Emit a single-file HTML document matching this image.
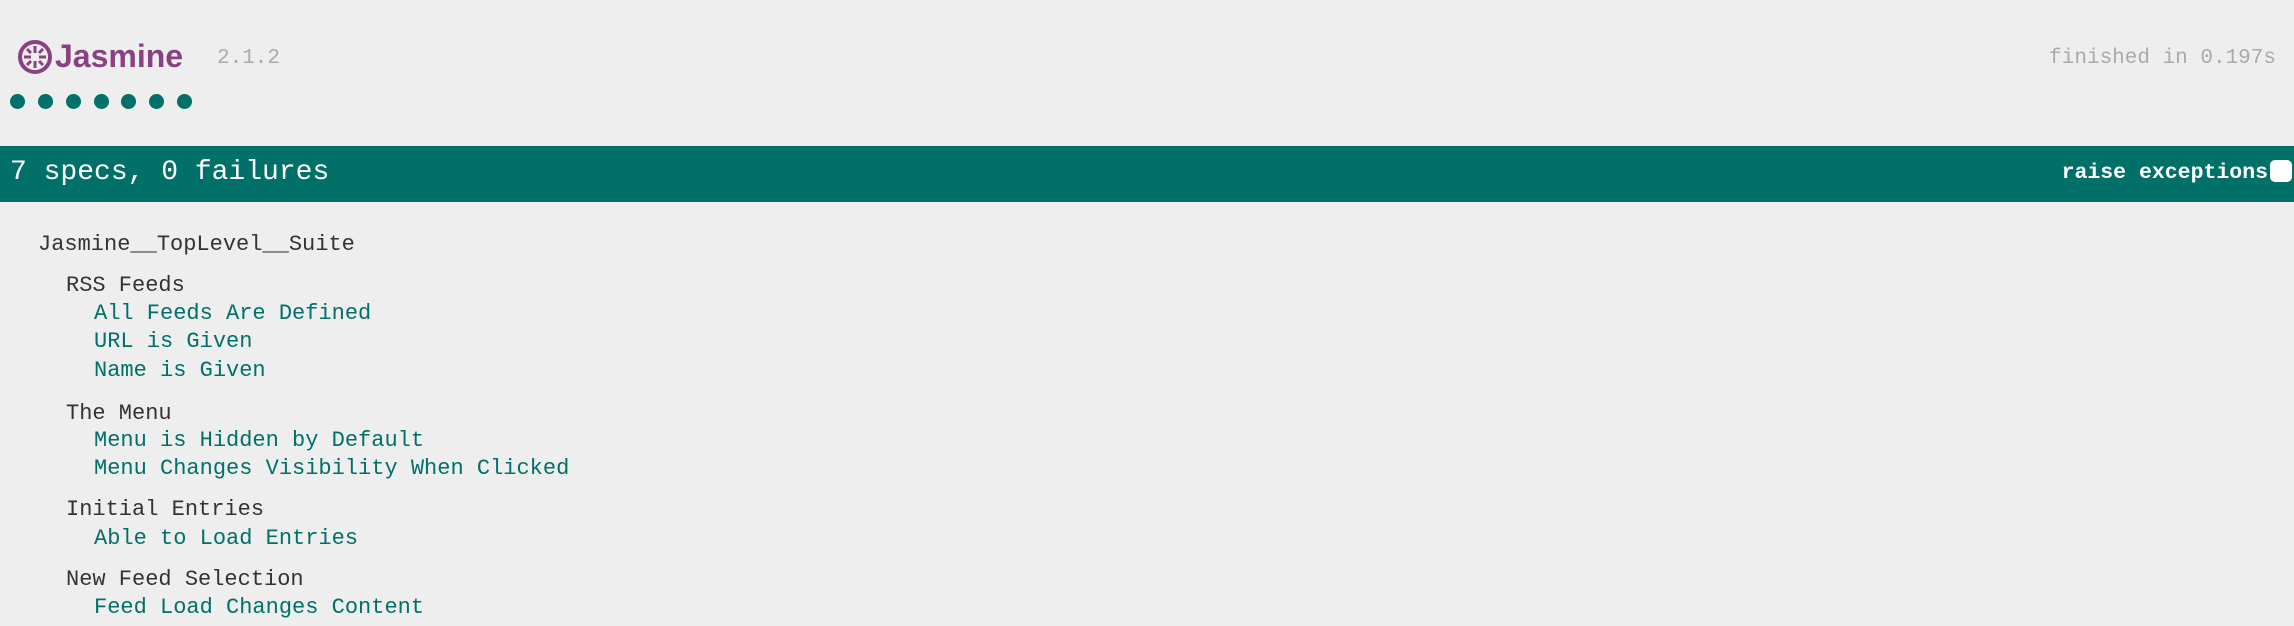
<!DOCTYPE html>
<html><head><meta charset="utf-8">
<style>
body{margin:0;width:2294px;height:626px;background:#eee;overflow:hidden;position:relative;font-family:"Liberation Mono",monospace}
.a{position:absolute;white-space:nowrap;line-height:1}
.dot{position:absolute;top:94px;width:15px;height:15px;border-radius:50%;background:#007069}
.s{color:#333;font-size:22px}
.p{color:#007069;font-size:22px}
</style></head><body>
<div class="a" style="left:17px;top:39px">
<svg width="36" height="36" viewBox="0 0 36 36"><circle cx="18" cy="18" r="15" fill="none" stroke="#8a4182" stroke-width="4"/><g stroke="#8a4182" stroke-width="3"><line x1="18" y1="7" x2="18" y2="14"/><line x1="18" y1="22" x2="18" y2="29"/><line x1="7" y1="18" x2="14" y2="18"/><line x1="22" y1="18" x2="29" y2="18"/><line x1="10" y1="10" x2="14" y2="14"/><line x1="22" y1="22" x2="26" y2="26"/><line x1="26" y1="10" x2="22" y2="14"/><line x1="14" y1="22" x2="10" y2="26"/></g></svg></div>
<div class="a" style="left:55px;top:40px;font-family:'Liberation Sans',sans-serif;font-weight:bold;font-size:32px;color:#8a4182;letter-spacing:0px">Jasmine</div>
<div class="a" style="left:217px;top:48px;font-size:21px;color:#aaa">2.1.2</div>
<div class="a" style="right:18px;top:48px;font-size:21px;color:#aaa">finished in 0.197s</div>
<div class="dot" style="left:10px"></div>
<div class="dot" style="left:38px"></div>
<div class="dot" style="left:66px"></div>
<div class="dot" style="left:94px"></div>
<div class="dot" style="left:121px"></div>
<div class="dot" style="left:149px"></div>
<div class="dot" style="left:177px"></div>
<div style="position:absolute;left:0;top:146px;width:2294px;height:56px;background:#007069"></div>
<div class="a" style="left:10px;top:159px;font-size:28px;color:#fff">7 specs, 0 failures</div>
<div class="a" style="right:26px;top:163px;font-size:21.5px;color:#fff;font-weight:bold">raise exceptions</div>
<div style="position:absolute;left:2270px;top:160px;width:22px;height:22px;border-radius:5px;background:#fff"></div>
<div class="a s" style="left:38px;top:234px">Jasmine__TopLevel__Suite</div>
<div class="a s" style="left:66px;top:275px">RSS Feeds</div>
<div class="a p" style="left:94px;top:303px">All Feeds Are Defined</div>
<div class="a p" style="left:94px;top:331px">URL is Given</div>
<div class="a p" style="left:94px;top:360px">Name is Given</div>
<div class="a s" style="left:66px;top:403px">The Menu</div>
<div class="a p" style="left:94px;top:430px">Menu is Hidden by Default</div>
<div class="a p" style="left:94px;top:458px">Menu Changes Visibility When Clicked</div>
<div class="a s" style="left:66px;top:499px">Initial Entries</div>
<div class="a p" style="left:94px;top:528px">Able to Load Entries</div>
<div class="a s" style="left:66px;top:569px">New Feed Selection</div>
<div class="a p" style="left:94px;top:597px">Feed Load Changes Content</div>
</body></html>
